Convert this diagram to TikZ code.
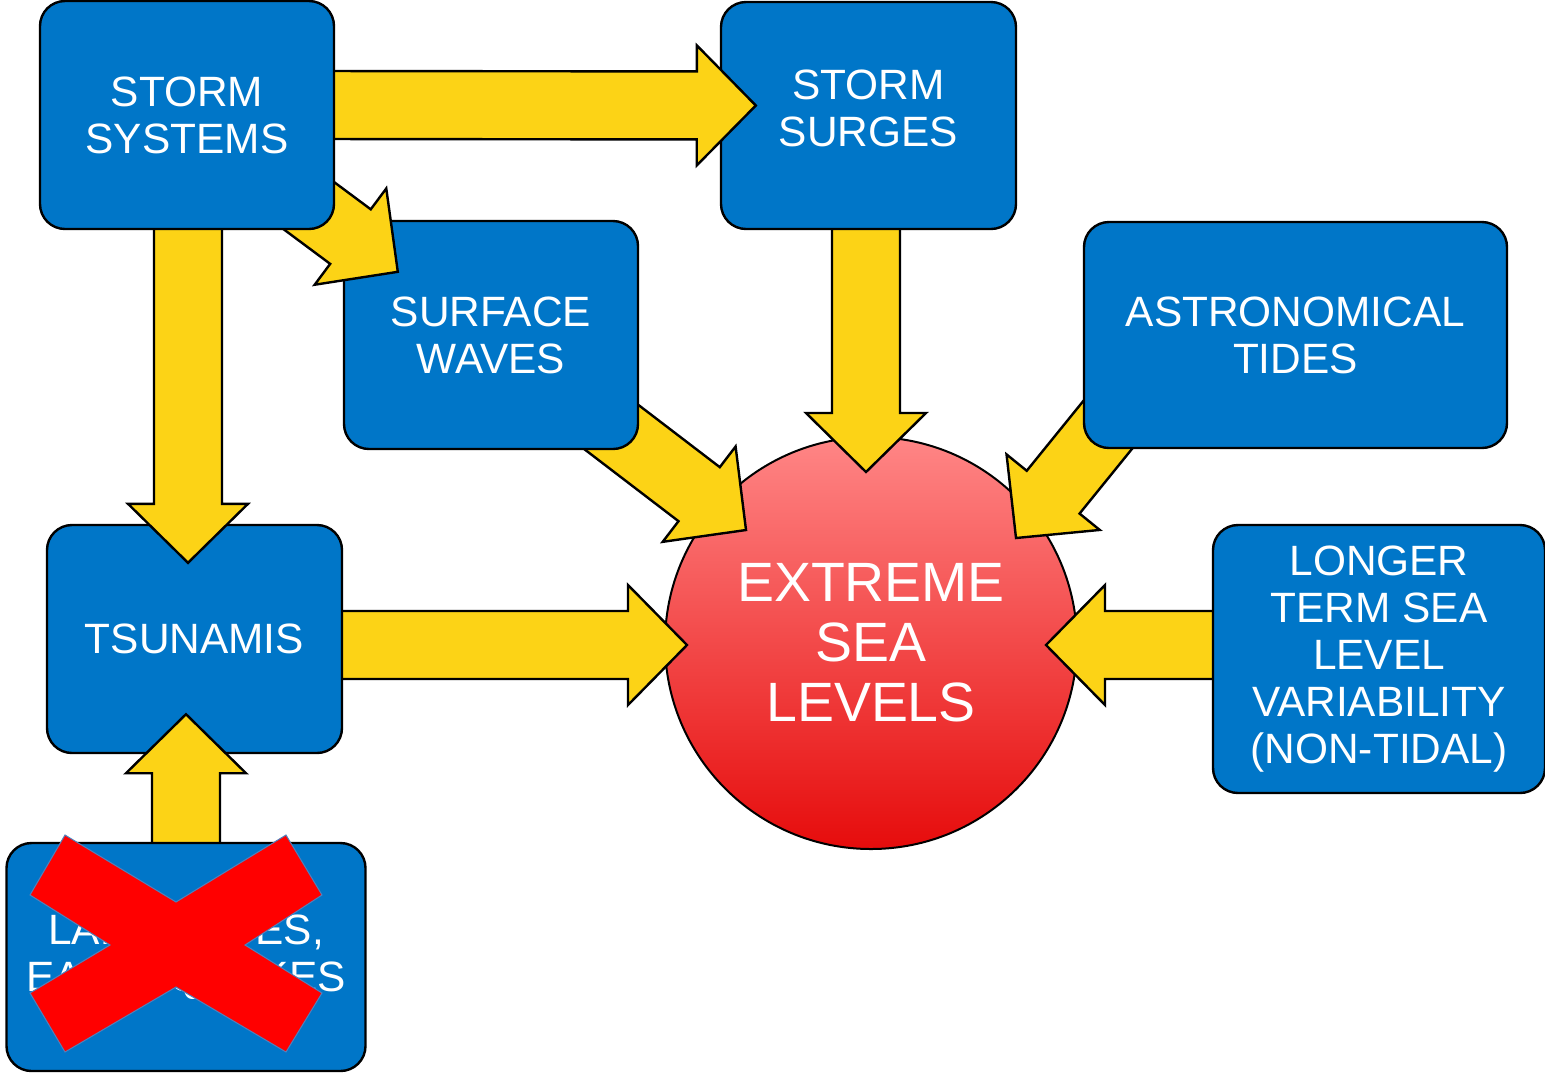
\documentclass[tikz,border=0pt]{standalone}
\usepackage{fontspec}
\setmainfont{Liberation Sans}
\usetikzlibrary{calc}
\pgfdeclarelayer{l0}
\pgfdeclarelayer{l1}
\pgfdeclarelayer{l2}
\pgfdeclarelayer{l3}
\pgfsetlayers{l0,l1,l2,l3,main}
\definecolor{boxblue}{RGB}{0,118,200}
\definecolor{arryellow}{RGB}{252,211,22}
\definecolor{circtop}{RGB}{255,134,134}
\definecolor{circbot}{RGB}{230,12,12}
\definecolor{xedge}{RGB}{79,129,189}
\tikzset{
  box/.style={rectangle, rounded corners=12.5pt, draw=black, line width=1.2pt,
    fill=boxblue, text=white, align=center, inner sep=0pt,
    font=\fontsize{21.2}{23.5}\selectfont},
  fatarr/.style={draw=black, line width=1.2pt, fill=arryellow, line join=miter},
  bigcircle/.style={circle, draw=black, line width=1pt, top color=circtop,
    bottom color=circbot, text=white, align=center, inner sep=0pt,
    font=\fontsize{27.7}{30}\selectfont},
  xmark/.style={fill=red, draw=xedge, line width=0.5pt, line join=miter}
}
\newcommand\fatarrow[2]{%
  \coordinate (fas) at #1;
  \coordinate (fat) at #2;
  \coordinate (fah) at ($(fat)!29.5pt!(fas)$);
  \draw[fatarr] ($(fas)!17pt!90:(fat)$) -- ($(fah)!17pt!-90:(fas)$)
    -- ($(fah)!30pt!-90:(fas)$) -- (fat) -- ($(fah)!30pt!90:(fas)$)
    -- ($(fah)!17pt!90:(fas)$) -- ($(fas)!17pt!-90:(fat)$) -- cycle;}
\begin{document}
\begin{tikzpicture}[x=0.5pt, y=-0.5pt]
\useasboundingbox (0,0) rectangle (1545,1073);
% circle
\begin{pgfonlayer}{l0}
\node[bigcircle, minimum size=206pt] (esl) at (871,643) {EXTREME\\SEA\\LEVELS};
\end{pgfonlayer}
% second-level boxes
\begin{pgfonlayer}{l2}
\node[box, minimum width=147.5pt, minimum height=113.5pt, text depth=7pt] (sg) at (868.5,115.5) {STORM\\SURGES};
\node[box, minimum width=147pt, minimum height=114pt] (sw) at (491,335) {SURFACE\\WAVES};
\node[box, minimum width=211.5pt, minimum height=113pt] (ast) at (1295.5,335) {ASTRONOMICAL\\TIDES};
\node[box, minimum width=147.5pt, minimum height=114pt] (ts) at (194.5,639) {TSUNAMIS};
\node[box, minimum width=166pt, minimum height=134pt] (lt) at (1379,659) {LONGER\\TERM SEA\\LEVEL\\VARIABILITY\\(NON-TIDAL)};
\end{pgfonlayer}
% top-level boxes
\node[box, minimum width=147pt, minimum height=114pt] (ss) at (187,115) {STORM\\SYSTEMS};
\node[box, minimum width=179.5pt, minimum height=114pt] (ls) at (186,957) {LANDSLIDES,\\EARTHQUAKES};
% arrows into the circle
\begin{pgfonlayer}{l1}
\fatarrow{(sw.center)}{($(esl.center)+(-125,-113)$)}
\fatarrow{($(sg.south)+(-2.5,-20)$)}{($(esl.north)+(-5,36)$)}
\coordinate (astsrc) at ($(ast.center)+(-115,0)$);
\fatarrow{(astsrc)}{($(esl.center)+(145,-105)$)}
\fatarrow{($(ts.center)+(0,6)$)}{($(esl.west)+(23,2)$)}
\fatarrow{($(lt.center)+(0,-14)$)}{($(esl.east)+(-32,2)$)}
\end{pgfonlayer}
% arrows from the top-level boxes
\begin{pgfonlayer}{l3}
\fatarrow{($(ss.east)+(-20,-10)$)}{($(sg.west)+(36,-10)$)}
\fatarrow{($(ss.south)+(1,-20)$)}{($(ts.north)+(-6.5,39)$)}
\fatarrow{(ss.center)}{($(sw.north west)+(55,52)$)}
\fatarrow{(ls.center)}{($(ts.south)+(-8.5,-40)$)}
\end{pgfonlayer}
% red cross over the landslides box
\draw[xmark] (65,835) -- (176,902) -- (286,835) -- (322,895) -- (245,945)
  -- (322,993) -- (286,1052) -- (176,987) -- (65,1052) -- (30,993)
  -- (110,945) -- (30,895) -- cycle;
\end{tikzpicture}
\end{document}
